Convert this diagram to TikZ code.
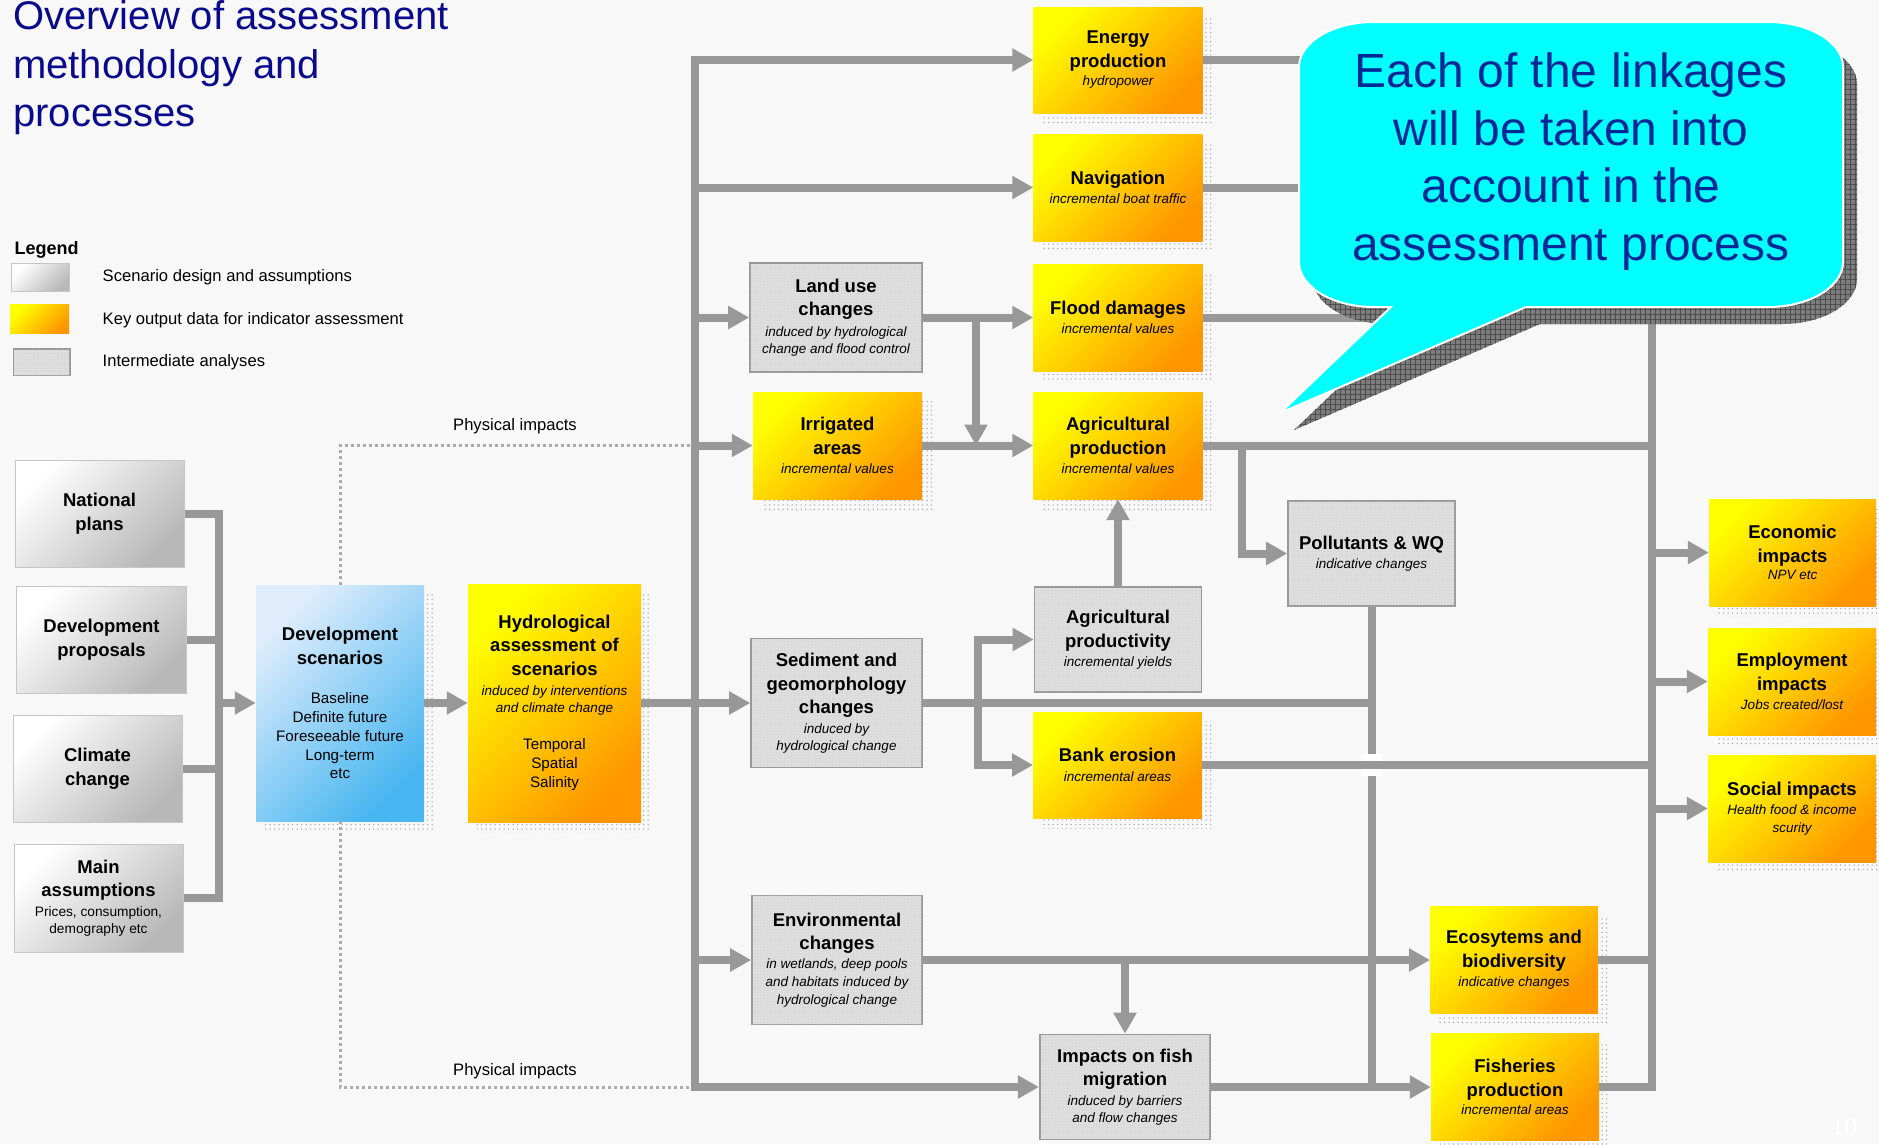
\documentclass[tikz,border=0pt]{standalone}
\usepackage{fontspec}
\setmainfont{Liberation Sans}
\newfontfamily\numserif{Liberation Serif}
\usetikzlibrary{arrows.meta,patterns,patterns.meta,calc}
\pgfdeclarelayer{bg}
\pgfsetlayers{bg,main}
\definecolor{bgc}{RGB}{248,248,248}
\definecolor{lnc}{RGB}{152,152,152}
\definecolor{navyt}{RGB}{10,10,140}
\definecolor{bubtxt}{RGB}{0,40,150}
\definecolor{yel}{RGB}{255,255,0}
\definecolor{org}{RGB}{255,150,0}
\definecolor{blA}{RGB}{224,237,252}
\definecolor{blB}{RGB}{72,182,240}
\definecolor{grB}{RGB}{184,184,184}
\definecolor{imf}{RGB}{218,218,218}
\definecolor{cyanb}{RGB}{0,255,255}
\definecolor{bubsh}{RGB}{125,125,125}
\newcommand{\subl}[1]{{\fontsize{13.5}{17}\selectfont\mdseries\itshape #1}}
\newcommand{\regl}[1]{{\fontsize{15.2}{19}\selectfont\mdseries #1}}
\newcommand{\sreg}[1]{{\fontsize{13.7}{17}\selectfont\mdseries #1}}
\tikzset{
  boxbase/.style={inner sep=0pt, align=center, text=black, font=\fontsize{18.5}{23.5}\selectfont\bfseries},
  sz/.style 2 args={minimum width=#1pt, minimum height=#2pt},
  ybox/.style={boxbase, top color=yel, bottom color=org, shading angle=45},
  sbox/.style={boxbase, top color=white, bottom color=grB, shading angle=45, draw=gray!45, line width=1pt},
  dbox/.style={boxbase, top color=blA, bottom color=blB, shading angle=45},
  ibox/.style={boxbase, fill=imf, draw=lnc, line width=1.6pt, postaction={pattern=dots, pattern color=white}},
  conn/.style={draw=lnc, line width=8pt},
  arr/.style={conn, -{Triangle[length=21pt,width=22pt]}},
  dotl/.style={draw=gray!65, line width=3pt, dash pattern=on 3pt off 3pt},
  shadowp/.style={pattern={Dots[distance=4.5pt,radius=0.75pt]}, pattern color=gray!70},
  lbl/.style={inner sep=0pt, font=\fontsize{16.6}{20}\selectfont, text=black},
}
\begin{document}
\begin{tikzpicture}[x=1pt,y=-1pt]
\begin{pgfonlayer}{bg}
\fill[bgc] (0,0) rectangle (1879,1144);
\end{pgfonlayer}
\useasboundingbox (0,0) rectangle (1879,1144);

% title
\node[anchor=base west, inner sep=0pt, text=navyt, font=\fontsize{40}{49}\selectfont] (t1) at (13,29.5) {Overview of assessment};
\node[anchor=base west, inner sep=0pt, text=navyt, font=\fontsize{40}{49}\selectfont] (t2) at (13,78.3) {methodology and};
\node[anchor=base west, inner sep=0pt, text=navyt, font=\fontsize{40}{49}\selectfont] (t3) at (13,126.7) {processes};

% legend
\node[anchor=base west, inner sep=0pt, font=\fontsize{18}{22}\selectfont\bfseries] (leg) at (14.4,254) {Legend};
\node[sbox, sz={58}{28.5}] (lg1) at (40.9,277.5) {};
\node[ybox, sz={59}{28.5}] (lg2) at (39.7,319.2) {};
\node[ibox, sz={56.5}{26.5}] (lg3) at (41.7,362.3) {};
\node[lbl, anchor=base west] (lt1) at (102.5,281.7) {Scenario design and assumptions};
\node[lbl, anchor=base west] (lt2) at (102.5,324) {Key output data for indicator assessment};
\node[lbl, anchor=base west] (lt3) at (102.5,366.7) {Intermediate analyses};

% left column
\node[sbox, sz={169}{107}] (nat) at (99.5,513.5) {National\\plans};
\node[sbox, sz={170}{107}] (dprop) at (101.5,639.5) {Development\\proposals};
\node[sbox, sz={169}{107}] (clim) at (97.5,768.5) {Climate\\change};
\node[sbox, sz={169}{108}] (mainas) at (98.5,898) {Main\\assumptions\\[-4pt]\sreg{Prices, consumption,}\\[-6pt]\sreg{demography etc}};
\node[dbox, sz={168}{236}] (devs) at (340,703) {Development\\scenarios\\[16pt]\regl{Baseline}\\[-4.5pt]\regl{Definite future}\\[-4.5pt]\regl{Foreseeable future}\\[-4.5pt]\regl{Long-term}\\[-5.5pt]\regl{etc}};
\node[ybox, sz={173}{238}] (hydro) at (554.5,703) {Hydrological\\assessment of\\scenarios\\[-3pt]\subl{induced by interventions}\\[-7pt]\subl{and climate change}\\[14pt]\regl{Temporal}\\[-4.5pt]\regl{Spatial}\\[-4.5pt]\regl{Salinity}};

% middle
\node[ybox, sz={169}{106}] (energy) at (1118,60) {Energy\\production\\[-5pt]\subl{hydropower}};
\node[ybox, sz={169}{107}] (nav) at (1118,187.5) {Navigation\\[-5pt]\subl{incremental boat traffic}};
\node[ibox, sz={172}{109}] (landuse) at (836,317.5) {Land use\\changes\\[-3pt]\subl{induced by hydrological}\\[-6.5pt]\subl{change and flood control}};
\node[ybox, sz={169}{107}] (flood) at (1118,317.5) {Flood damages\\[-5pt]\subl{incremental values}};
\node[ybox, sz={169}{107}] (irr) at (837.5,445.5) {Irrigated\\areas\\[-4pt]\subl{incremental values}};
\node[ybox, sz={169}{107}] (agp) at (1118,445.5) {Agricultural\\production\\[-4pt]\subl{incremental values}};
\node[ibox, sz={167}{105}] (agy) at (1118,639.5) {Agricultural\\productivity\\[-4.5pt]\subl{incremental yields}};
\node[ibox, sz={167}{105}] (poll) at (1371.5,553.5) {Pollutants \& WQ\\[-4pt]\subl{indicative changes}};
\node[ibox, sz={171}{129}] (sed) at (836.5,703) {Sediment and\\geomorphology\\changes\\[-4pt]\subl{induced by}\\[-6.5pt]\subl{hydrological change}};
\node[ybox, sz={168.5}{106}] (bank) at (1117.5,765) {Bank erosion\\[-3pt]\subl{incremental areas}};
\node[ibox, sz={170}{129}] (env) at (837,960) {Environmental\\changes\\[-5pt]\subl{in wetlands, deep pools}\\[-5.5pt]\subl{and habitats induced by}\\[-5.5pt]\subl{hydrological change}};
\node[ibox, sz={170.5}{105}] (fish) at (1125,1087) {Impacts on fish\\migration\\[-4pt]\subl{induced by barriers}\\[-6.5pt]\subl{and flow changes}};
\node[ybox, sz={167.5}{107}] (eco) at (1514,960) {Ecosytems and\\biodiversity\\[-4pt]\subl{indicative changes}};
\node[ybox, sz={168}{107}] (fishp) at (1515,1087) {Fisheries\\production\\[-5pt]\subl{incremental areas}};

% right column
\node[ybox, sz={167}{107}] (econ) at (1792.5,552.5) {Economic\\impacts\\[-6pt]\subl{NPV etc}};
\node[ybox, sz={168}{107}] (empl) at (1792,681.5) {Employment\\impacts\\[-4.5pt]\subl{Jobs created/lost}};
\node[ybox, sz={168}{107}] (social) at (1792,808.5) {Social impacts\\[-4.5pt]\subl{Health food \& income}\\[-6pt]\subl{scurity}};

% dotted shadows
\begin{pgfonlayer}{bg}
\foreach \n in {energy,nav,flood,irr,agp,bank,eco,fishp,econ,empl,social,devs,hydro}
  \fill[shadowp] ($(\n.north west)+(9,10)$) rectangle ($(\n.south east)+(10,10)$);
\end{pgfonlayer}

% bus coordinates
\coordinate (lb) at (219,0);
\coordinate (tr) at (695,0);
\coordinate (j1) at (976,0);
\coordinate (j2) at (1242,0);
\coordinate (j3) at (978,0);
\coordinate (rb) at (1652,0);

% dotted physical impacts
\draw[dotl] (devs.north) |- (irr.west -| tr);
\draw[dotl] (devs.south) |- (fish.west -| tr);
\node[lbl, anchor=base] (pi1) at (515,430.7) {Physical impacts};
\node[lbl, anchor=base] (pi2) at (515,1075) {Physical impacts};

% left bus
\draw[conn] (nat.east) -| (lb |- mainas.east) -- (mainas.east);
\draw[conn] (dprop.east) -- (dprop.east -| lb);
\draw[conn] (clim.east) -- (clim.east -| lb);
\draw[arr] (devs.west -| lb) -- (devs.west);
\draw[arr] (devs.east) -- (hydro.west);
\draw[arr] (hydro.east) -- (sed.west);

% trunk
\draw[arr] (fish.west -| tr) |- (energy.west);
\draw[arr] (nav.west -| tr) -- (nav.west);
\draw[arr] (landuse.west -| tr) -- (landuse.west);
\draw[arr] (irr.west -| tr) -- (irr.west);
\draw[arr] (env.west -| tr) -- (env.west);
\draw[arr, shorten <=-4pt] (fish.west -| tr) -- (fish.west);

% middle links
\draw[arr] (landuse.east) -- (flood.west);
\draw[arr] (landuse.east -| j1) -- (irr.east -| j1);
\draw[arr] (irr.east) -- (agp.west);
\draw[arr] (agy.north) -- (agp.south);
\draw[arr] (agp.east -| j2) |- (poll.west);
\draw[conn] (poll.south) -- (poll.south |- fish.east);
\draw[conn] (sed.east) -- (sed.east -| poll.south);
\draw[arr] (sed.east -| j3) |- (agy.west);
\draw[arr] (sed.east -| j3) |- (bank.west);
\fill[white] ($(bank.east -| poll.south)+(-10.5,-11)$) rectangle ($(bank.east -| poll.south)+(10.5,11)$);
\draw[conn] (bank.east) -- (bank.east -| rb);
\draw[arr] (env.east) -- (eco.west);
\draw[arr] (env.east -| fish.north) -- (fish.north);
\draw[arr] (fish.east) -- (fishp.west);

% right bus
\draw[conn] (fishp.east) -| (energy.east -| rb);
\draw[conn] (eco.east) -- (eco.east -| rb);
\draw[conn] (energy.east) -- (energy.east -| rb);
\draw[conn] (nav.east) -- (nav.east -| rb);
\draw[conn] (flood.east) -- (flood.east -| rb);
\draw[conn] (agp.east) -- (agp.east -| rb);
\draw[arr] (econ.west -| rb) -- (econ.west);
\draw[arr] (empl.west -| rb) -- (empl.west);
\draw[arr] (social.west -| rb) -- (social.west);

% callout shadow
\begin{scope}[shift={(14,17)}]
\fill[bubsh] (1299,67) .. controls (1299,42.2) and (1332.6,22) .. (1374,22)
  -- (1768,22) .. controls (1809.4,22) and (1843,42.2) .. (1843,67)
  -- (1843,262) .. controls (1843,286.8) and (1809.4,307) .. (1768,307)
  -- (1526,307) -- (1280,413) -- (1391,307) -- (1374,307)
  .. controls (1332.6,307) and (1299,286.8) .. (1299,262) -- cycle;
\fill[pattern={Hatch[angle=0,distance=5pt,line width=0.7pt]}, pattern color=black!70] (1299,67) .. controls (1299,42.2) and (1332.6,22) .. (1374,22)
  -- (1768,22) .. controls (1809.4,22) and (1843,42.2) .. (1843,67)
  -- (1843,262) .. controls (1843,286.8) and (1809.4,307) .. (1768,307)
  -- (1526,307) -- (1280,413) -- (1391,307) -- (1374,307)
  .. controls (1332.6,307) and (1299,286.8) .. (1299,262) -- cycle;
\end{scope}
% callout
\filldraw[fill=cyanb, draw=white, line width=2pt] (1299,67) .. controls (1299,42.2) and (1332.6,22) .. (1374,22)
  -- (1768,22) .. controls (1809.4,22) and (1843,42.2) .. (1843,67)
  -- (1843,262) .. controls (1843,286.8) and (1809.4,307) .. (1768,307)
  -- (1526,307) -- (1280,413) -- (1391,307) -- (1374,307)
  .. controls (1332.6,307) and (1299,286.8) .. (1299,262) -- cycle;
\node[inner sep=0pt, align=center, text=bubtxt, font=\fontsize{48}{57.5}\selectfont] (callout) at (1571,161.5) {Each of the linkages\\will be taken into\\account in the\\assessment process};

% page number
\node[inner sep=0pt, text=white, font=\numserif\fontsize{26}{30}\selectfont] (pgno) at (1844,1127) {10};
\end{tikzpicture}
\end{document}
